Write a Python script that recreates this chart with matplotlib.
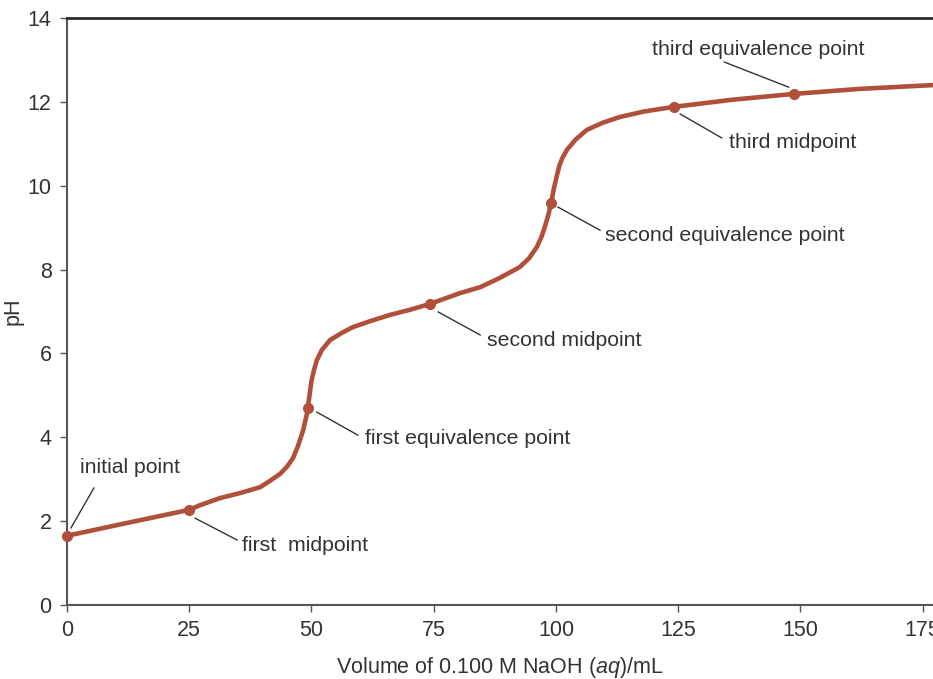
import matplotlib.pyplot as plt

plt.rcParams['font.family'] = ['Liberation Sans', 'DejaVu Sans']
plt.rcParams['mathtext.fontset'] = 'custom'
plt.rcParams['mathtext.it'] = 'Liberation Sans:italic'
plt.rcParams['mathtext.rm'] = 'Liberation Sans'

# titration curve (mL NaOH, pH)
volume = [0, 12, 25, 27.2, 31.3, 35.4, 39.5, 41.5, 43.6, 45.0, 46.2, 47.2, 48.3,
          49.1, 49.6, 50.0, 50.5, 51.1, 52.1, 53.8, 56.2, 58.5, 62, 66.1, 70.1,
          74.2, 80.4, 84.5, 88.5, 92.6, 94.5, 96.1, 97.1, 97.8, 98.5, 99.0, 99.6,
          100.2, 100.7, 101.3, 102.2, 104, 106.3, 109.5, 113.1, 118, 124.1, 136,
          148.7, 162.2, 177.1]
ph = [1.65, 1.95, 2.27, 2.38, 2.55, 2.67, 2.81, 2.96, 3.13, 3.30, 3.50, 3.78, 4.17,
      4.58, 5.00, 5.35, 5.60, 5.84, 6.08, 6.32, 6.49, 6.63, 6.77, 6.92, 7.04,
      7.18, 7.44, 7.58, 7.8, 8.06, 8.27, 8.54, 8.8, 9.05, 9.33, 9.59, 9.95,
      10.25, 10.48, 10.66, 10.85, 11.1, 11.33, 11.5, 11.64, 11.77, 11.88, 12.05,
      12.19, 12.31, 12.40]

# marked points
pt_vol = [0, 25, 49.3, 74.2, 99.0, 124.1, 148.7]
pt_ph = [1.65, 2.27, 4.70, 7.18, 9.59, 11.88, 12.19]

labels = ['initial point', 'first  midpoint', 'first equivalence point',
          'second midpoint', 'second equivalence point', 'third midpoint',
          'third equivalence point']
# label anchor (left, centre) and leader line ends, in data units
label_xy = [(2.66, 3.27), (35.8, 1.43), (60.9, 3.96), (85.9, 6.32),
            (110.0, 8.82), (135.4, 11.02), (119.6, 13.26)]
leader_from = [(0.82, 1.84), (26.2, 2.07), (51.1, 4.60), (75.9, 6.99),
               (100.4, 9.49), (125.4, 11.71), (147.6, 12.35)]
leader_to = [(5.5, 2.79), (34.8, 1.55), (59.5, 4.05), (84.5, 6.44),
             (109.0, 8.94), (133.9, 11.14), (134.4, 12.95)]

curve_col = '#b0503a'
txt_col = '#333333'

fig = plt.figure(figsize=(9.33, 6.79), dpi=100)
ax = fig.add_axes([67 / 933, 74 / 679, 1 - 67 / 933, (605 - 18) / 679])

ax.plot(volume, ph, color=curve_col, lw=3.3, solid_capstyle='round',
        solid_joinstyle='round', zorder=3)
ax.plot(pt_vol, pt_ph, 'o', color=curve_col, ms=7, zorder=4, clip_on=False)

for lab, txy, a, b in zip(labels, label_xy, leader_from, leader_to):
    ax.plot([a[0], b[0]], [a[1], b[1]], color=txt_col, lw=1.0, zorder=2)
    ax.text(txy[0], txy[1], lab, fontsize=15.3, color=txt_col,
            ha='left', va='center')

ax.set_xlim(0, 177.1)
ax.set_ylim(0, 14)
ax.set_xticks([0, 25, 50, 75, 100, 125, 150, 175])
ax.set_yticks(range(0, 15, 2))
ax.tick_params(direction='out', length=5, width=1, colors='#555555',
               labelcolor=txt_col, labelsize=15.5, pad=6)

ax.spines['right'].set_visible(False)
ax.spines['top'].set_color('#2a2a2a')
ax.spines['top'].set_linewidth(2)
ax.spines['left'].set_color('#555555')
ax.spines['left'].set_linewidth(1.5)
ax.spines['bottom'].set_color('#555555')
ax.spines['bottom'].set_linewidth(1.5)

ax.set_xlabel(r'Volume of 0.100 M NaOH ($\mathit{aq}$)/mL', fontsize=15.5,
              color=txt_col, labelpad=10)
ax.set_ylabel('pH', fontsize=15.5, color=txt_col, labelpad=3)

fig.savefig('out.png', dpi=100)
